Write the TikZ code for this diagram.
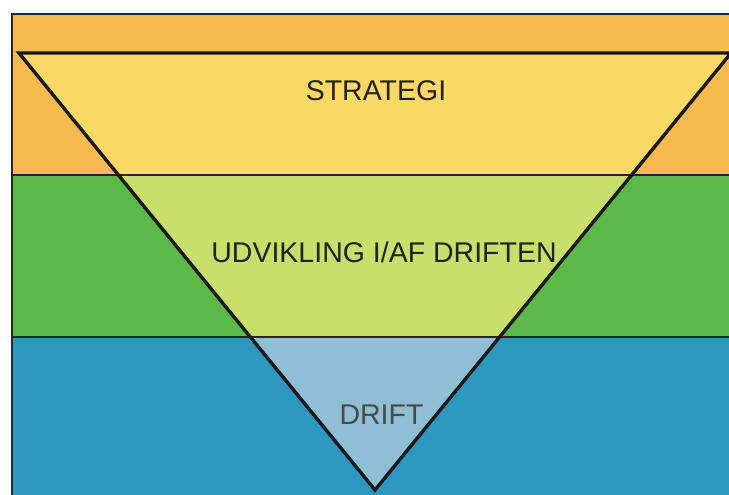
\documentclass[tikz,border=0pt]{standalone}
\usepackage{fontspec}
\setmainfont{Liberation Sans}
\definecolor{outerorange}{HTML}{F6BA4E}
\definecolor{inneryellow}{HTML}{FCD866}
\definecolor{outergreen}{HTML}{5CB847}
\definecolor{innergreen}{HTML}{C8E06B}
\definecolor{outerblue}{HTML}{2C97BF}
\definecolor{innerblue}{HTML}{8FBFD5}
\definecolor{labeltext}{HTML}{222222}
\definecolor{drifttext}{HTML}{4A4A4A}
\tikzset{
  bandline/.style={draw=black!85, line width=1.4pt},
  frameline/.style={draw=black!85, line width=2pt},
  triline/.style={draw=black!90, line width=3.4pt, line join=miter},
  bandlabel/.style={anchor=base, inner sep=0pt, font=\fontsize{28.5}{30}\selectfont, text=labeltext}
}
\begin{document}
\begin{tikzpicture}[x=1pt,y=-1pt]
\clip (0,0) rectangle (729,495);
\fill[white] (0,0) rectangle (729,495);
% outer bands
\fill[outerorange] (12,14) rectangle (760,175);
\fill[outergreen] (12,175) rectangle (760,337);
\fill[outerblue] (12,337) rectangle (760,520);
% triangle corners
\coordinate (tl) at (19,53);
\coordinate (tr) at (731,53);
\coordinate (ap) at (375,490);
% inner bands
\begin{scope}
  \clip (tl) -- (tr) -- (ap) -- cycle;
  \fill[inneryellow] (0,0) rectangle (760,175);
  \fill[innergreen] (0,175) rectangle (760,337);
  \fill[innerblue] (0,337) rectangle (760,520);
\end{scope}
% band boundaries and frame
\draw[bandline] (12,175) -- (760,175);
\draw[bandline] (12,337) -- (760,337);
\draw[frameline] (12,520) -- (12,14) -- (760,14);
% triangle outline
\draw[triline] (tl) -- (tr) -- (ap) -- cycle;
% labels
\node[bandlabel] (strategi) at (376,100) {STRATEGI};
\node[bandlabel] (udvikling) at (384,262) {UDVIKLING I/AF DRIFTEN};
\node[bandlabel, text=drifttext] (drift) at (381.5,424) {DRIFT};
\end{tikzpicture}
\end{document}
